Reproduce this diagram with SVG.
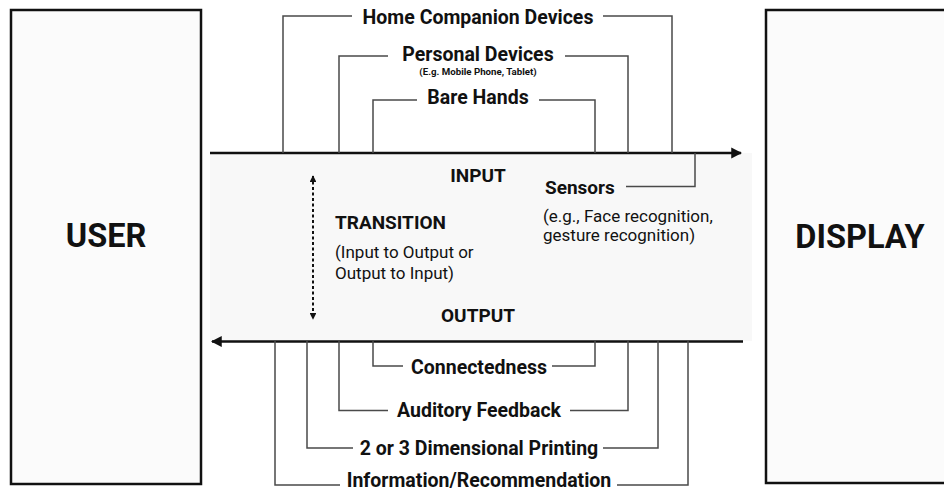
<svg xmlns="http://www.w3.org/2000/svg" width="944" height="493" viewBox="0 0 944 493">
<defs>
<style>
.box{fill:#fbfbfb;stroke:#111;stroke-width:2.5}
.big{font-family:Roboto,"Liberation Sans",sans-serif;font-weight:700;font-size:32.5px;fill:#111;text-anchor:middle}
.lbl{font-family:Roboto,"Liberation Sans",sans-serif;font-weight:700;font-size:19.5px;fill:#111;text-anchor:middle}
.hd{font-family:Roboto,"Liberation Sans",sans-serif;font-weight:700;font-size:19px;fill:#111}
.sm{font-family:Roboto,"Liberation Sans",sans-serif;font-weight:700;font-size:9.7px;fill:#111;text-anchor:middle}
.reg{font-family:Roboto,"Liberation Sans",sans-serif;font-weight:400;font-size:17px;fill:#111}
.br{fill:none;stroke:#4a4a4a;stroke-width:1.5}
.main{fill:none;stroke:#111;stroke-width:2.7}
</style>
<marker id="ah" viewBox="0 0 10 10" refX="9" refY="5" markerWidth="4" markerHeight="4.4" orient="auto-start-reverse" markerUnits="strokeWidth">
<path d="M0,0 L10,5 L0,10 z" fill="#111"/>
</marker>
<marker id="ahs" viewBox="0 0 10 10" refX="9" refY="5" markerWidth="3.4" markerHeight="3.4" orient="auto-start-reverse" markerUnits="strokeWidth">
<path d="M0,0 L10,5 L0,10 z" fill="#111"/>
</marker>
</defs>
<rect width="944" height="493" fill="#ffffff"/>
<g id="band"><rect x="210" y="153" width="542" height="188" fill="#f8f8f8"/></g>
<g id="user"><rect class="box" x="11" y="10" width="190" height="474"/><text class="big" x="106" y="247">USER</text></g>
<g id="display"><rect class="box" x="766" y="10" width="200" height="473"/><text class="big" x="860" y="248">DISPLAY</text></g>
<g id="connectors">
<path class="main" d="M210,153 H741" marker-end="url(#ah)"/>
<path class="main" d="M743,341.5 H212" marker-end="url(#ah)"/>
<path d="M313,176 V319" stroke="#111" stroke-width="2" stroke-dasharray="3,2.5" fill="none" marker-start="url(#ahs)" marker-end="url(#ahs)"/>
<path class="br" d="M283,153 V16 H352 M603,16 H672 V153"/>
<path class="br" d="M339,153 V56 H388 M565,56 H628 V153"/>
<path class="br" d="M373,153 V100 H417 M539,100 H595 V153"/>
<path class="br" d="M695,153 V186.5 H626"/>
<path class="br" d="M373,341 V366 H403 M552,366 H595 V341"/>
<path class="br" d="M339,341 V410.5 H388 M570,410.5 H628 V341"/>
<path class="br" d="M307,341 V448 H353 M603,448 H658 V341"/>
<path class="br" d="M275,341 V485 H340 M617,485 H688 V341"/>
</g>
<g id="home"><text class="lbl" x="478" y="24">Home Companion Devices</text></g>
<g id="personal"><text class="lbl" x="478" y="61">Personal Devices</text><text class="sm" x="478" y="75">(E.g. Mobile Phone, Tablet)</text></g>
<g id="bare"><text class="lbl" x="478" y="104">Bare Hands</text></g>
<g id="input"><text class="hd" x="478" y="182" text-anchor="middle">INPUT</text></g>
<g id="sensors"><text class="hd" x="545" y="194">Sensors</text><text class="reg" x="543" y="222">(e.g., Face recognition,</text><text class="reg" x="543" y="241">gesture recognition)</text></g>
<g id="transition"><text class="hd" x="335" y="229">TRANSITION</text><text class="reg" x="335" y="258">(Input to Output or</text><text class="reg" x="335" y="279">Output to Input)</text></g>
<g id="output"><text class="hd" x="478" y="322" text-anchor="middle">OUTPUT</text></g>
<g id="connectedness"><text class="lbl" x="479" y="374">Connectedness</text></g>
<g id="auditory"><text class="lbl" x="479" y="417">Auditory Feedback</text></g>
<g id="printing"><text class="lbl" x="479" y="455">2 or 3 Dimensional Printing</text></g>
<g id="information"><text class="lbl" x="479" y="487">Information/Recommendation</text></g>
</svg>
